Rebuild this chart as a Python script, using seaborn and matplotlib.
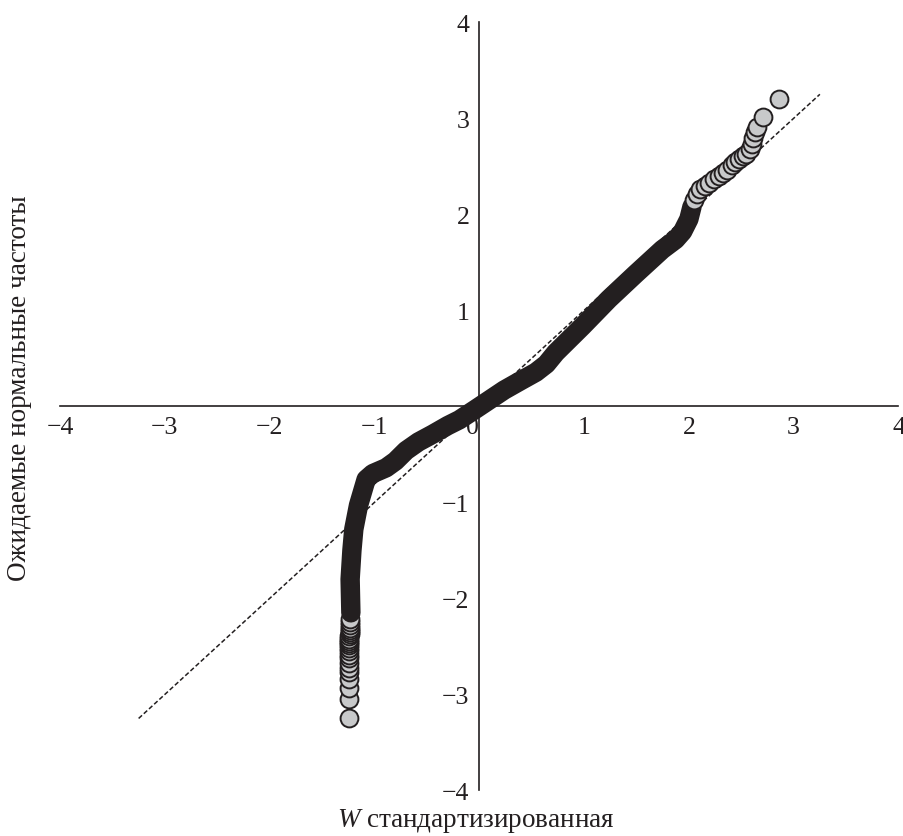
import matplotlib
matplotlib.use("Agg")
import matplotlib.pyplot as plt
import seaborn as sns

# points (x = standardised W, y = expected normal value)
lower_x = [-1.246, -1.246, -1.245, -1.245, -1.244, -1.244, -1.243, -1.243, -1.242,
           -1.242, -1.241, -1.241, -1.240, -1.240, -1.239, -1.239, -1.238, -1.238,
           -1.237, -1.237, -1.236, -1.235, -1.234]
lower_y = [-3.25, -3.05, -2.93, -2.84, -2.77, -2.72, -2.67, -2.62, -2.59, -2.55,
           -2.52, -2.49, -2.46, -2.44, -2.42, -2.39, -2.37, -2.35, -2.33, -2.31,
           -2.28, -2.25, -2.21]

# dense middle part, drawn as one solid band
band_x = [-1.225, -1.232, -1.215, -1.197, -1.152, -1.079, -1.016, -0.889, -0.80,
          -0.698, -0.58, -0.444, -0.30, -0.19, -0.05, 0.06, 0.238, 0.40, 0.54,
          0.64, 0.73, 0.984, 1.238, 1.492, 1.746, 1.873, 1.94, 2.00, 2.03]
band_y = [-2.15, -1.80, -1.50, -1.28, -1.03, -0.76, -0.70, -0.64, -0.57, -0.46,
          -0.37, -0.29, -0.20, -0.14, -0.04, 0.04, 0.17, 0.27, 0.355, 0.44, 0.56,
          0.834, 1.119, 1.379, 1.633, 1.737, 1.82, 1.95, 2.08]

upper_x = [2.048, 2.079, 2.110, 2.152, 2.190, 2.238, 2.286, 2.324, 2.365, 2.407,
           2.438, 2.476, 2.514, 2.546, 2.581, 2.603, 2.613, 2.629, 2.650, 2.708, 2.863]
upper_y = [2.15, 2.21, 2.265, 2.30, 2.33, 2.37, 2.40, 2.43, 2.466, 2.51, 2.54,
           2.577, 2.605, 2.63, 2.68, 2.73, 2.79, 2.855, 2.91, 3.01, 3.20]

ref_x = [-3.25, 3.25]
ref_y = [-3.25, 3.25]

x_ticks = [-4, -3, -2, -1, 0, 1, 2, 3, 4]
y_ticks = [-4, -3, -2, -1, 1, 2, 3, 4]

DARK = "#231f20"
FILL = "#c8c9ca"

sns.set_style("white")
plt.rcParams["font.family"] = ["Liberation Serif", "DejaVu Serif"]
plt.rcParams["mathtext.fontset"] = "custom"
plt.rcParams["mathtext.it"] = "Liberation Serif:italic"
plt.rcParams["mathtext.rm"] = "Liberation Serif"

fig = plt.figure(figsize=(9.04, 8.37), dpi=100)
ax = fig.add_axes([0.0664, 0.0544, 0.9275, 0.9178])

sns.lineplot(x=ref_x, y=ref_y, ax=ax, color=DARK, lw=1.1,
             linestyle=(0, (3, 1.6)), zorder=1)
sns.scatterplot(x=lower_x, y=lower_y, ax=ax, s=165, color=FILL,
                edgecolor=DARK, linewidth=1.4, zorder=2)
sns.lineplot(x=band_x, y=band_y, ax=ax, sort=False, estimator=None, color=DARK,
             lw=14, solid_capstyle="round", solid_joinstyle="round", zorder=3)
sns.scatterplot(x=upper_x, y=upper_y, ax=ax, s=165, color=FILL,
                edgecolor=DARK, linewidth=1.4, zorder=4)

ax.set_xlim(-4, 4)
ax.set_ylim(-4, 4)
ax.spines["left"].set_position("zero")
ax.spines["bottom"].set_position("zero")
ax.spines["top"].set_visible(False)
ax.spines["right"].set_visible(False)
for s in ["left", "bottom"]:
    ax.spines[s].set_color(DARK)
    ax.spines[s].set_linewidth(1.2)

ax.set_xticks(x_ticks)
ax.set_yticks(y_ticks)
ax.tick_params(axis="both", direction="in", length=6, width=1.1, color=DARK,
               labelsize=18.5, labelcolor=DARK, pad=7)
for lbl in ax.get_xticklabels():
    if lbl.get_text() in ("0", "\u22120"):
        lbl.set_horizontalalignment("right")
ax.set_xlabel("")
ax.set_ylabel("")
ax.grid(False)

fig.text(20 / 904, 0.5364, "Ожидаемые нормальные частоты", rotation=90,
         ha="center", va="center", fontsize=19.5, color=DARK)
fig.text(476 / 904, 0.002, r"$W$ стандартизированная", ha="center",
         va="bottom", fontsize=19.5, color=DARK)

fig.savefig("out.png", dpi=100)
